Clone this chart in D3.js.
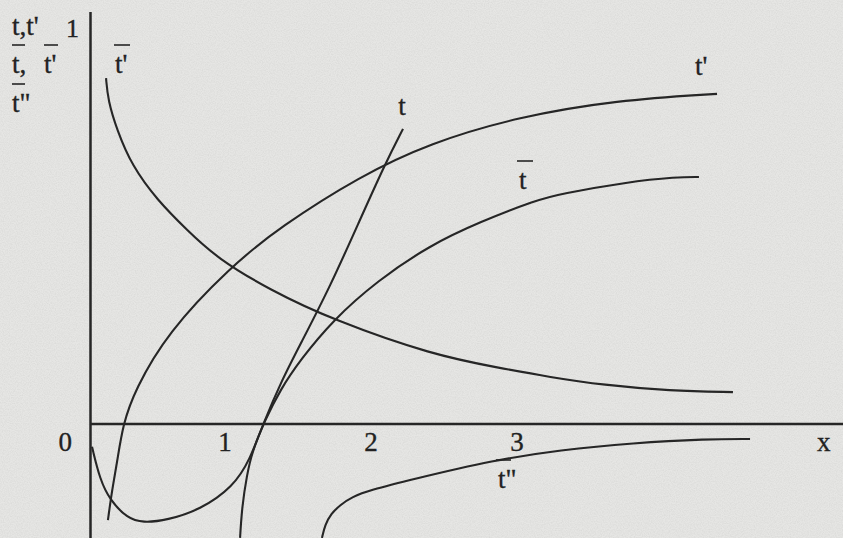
<!DOCTYPE html>
<html>
<head>
<meta charset="utf-8">
<script src="https://cdn.jsdelivr.net/npm/d3@7"></script>
<style>
  html, body { margin: 0; padding: 0; background: #e6e6e4; }
  svg { display: block; }
  text { font-family: "Liberation Serif", "Times New Roman", serif; fill: #222; stroke: #222; stroke-width: 0.35px; }
</style>
</head>
<body>
<svg id="chart" width="843" height="538"></svg>
<script>
// Tax t(x), marginal rate t'(x), average rate t̄(x) = t/x and its derivatives,
// as functions of income x.
const taxT = [
  [0.007, -0.058], [0.062, -0.142], [0.130, -0.193], [0.247, -0.239], [0.356, -0.251],
  [0.521, -0.244], [0.747, -0.218], [0.973, -0.160], [1.089, -0.091], [1.178, 0.000],
  [1.308, 0.112], [1.432, 0.201], [1.637, 0.348], [1.842, 0.518], [2.014, 0.660],
  [2.137, 0.749]
];
const marginalT = [
  [0.116, -0.244], [0.144, -0.168], [0.178, -0.099], [0.219, 0.000], [0.301, 0.086],
  [0.521, 0.231], [0.952, 0.398], [1.295, 0.500], [1.842, 0.629], [2.322, 0.713],
  [2.918, 0.779], [3.603, 0.822], [4.288, 0.838]
];
const averageT = [
  [1.021, -0.289], [1.034, -0.211], [1.068, -0.129], [1.103, -0.071], [1.192, 0.010],
  [1.295, 0.086], [1.432, 0.162], [1.658, 0.264], [1.959, 0.363], [2.322, 0.454],
  [2.664, 0.513], [3.055, 0.569], [3.212, 0.584], [3.671, 0.614], [4.014, 0.627],
  [4.164, 0.627]
];
const averageT1 = [
  [0.103, 0.878], [0.116, 0.822], [0.178, 0.746], [0.281, 0.655], [0.452, 0.569],
  [0.658, 0.492], [0.863, 0.421], [1.226, 0.340], [1.658, 0.264], [2.342, 0.175],
  [2.801, 0.142], [3.144, 0.119], [3.507, 0.099], [3.966, 0.084], [4.397, 0.081]
];
const averageT2 = [
  [1.582, -0.289], [1.603, -0.256], [1.644, -0.228], [1.705, -0.206], [1.788, -0.185],
  [1.911, -0.168], [2.185, -0.142], [2.767, -0.091], [3.212, -0.066], [3.712, -0.048],
  [4.219, -0.038], [4.514, -0.038]
];
const xTickValues = [0, 1, 2, 3];
const xTickLabels = ["0", "1", "2", "3"];
const yTickValues = [1];
const yTickLabels = ["1"];

const svg = d3.select("#chart");
const W = 843, H = 538;

// paper grain
const defs = svg.append("defs");
const grain = defs.append("filter").attr("id", "grain")
  .attr("x", 0).attr("y", 0).attr("width", "100%").attr("height", "100%");
grain.append("feTurbulence").attr("type", "fractalNoise")
  .attr("baseFrequency", 0.85).attr("numOctaves", 2).attr("seed", 7);
grain.append("feColorMatrix").attr("type", "matrix")
  .attr("values", "0 0 0 0 0.35  0 0 0 0 0.35  0 0 0 0 0.34  0.3 0 0 0 -0.1");

svg.append("rect").attr("width", W).attr("height", H).attr("fill", "#e6e6e4");
svg.append("rect").attr("width", W).attr("height", H).attr("filter", "url(#grain)");

const x = d3.scaleLinear().domain([0, 5]).range([91, 821]);
const y = d3.scaleLinear().domain([0, 1]).range([424, 30]);

const ink = "#262626";

// axes
svg.append("line")
  .attr("x1", x(0) - 0.5).attr("x2", x(0) - 0.5)
  .attr("y1", 12).attr("y2", H)
  .attr("stroke", ink).attr("stroke-width", 2.5);
svg.append("line")
  .attr("x1", x(0) - 1).attr("x2", W)
  .attr("y1", y(0)).attr("y2", y(0))
  .attr("stroke", ink).attr("stroke-width", 2.5);

// curves, smoothed through the read points
const line = d3.line()
  .x(d => x(d[0])).y(d => y(d[1]))
  .curve(d3.curveBasis);

[taxT, marginalT, averageT, averageT1, averageT2].forEach(series => {
  svg.append("path")
    .attr("d", line(series))
    .attr("fill", "none")
    .attr("stroke", ink)
    .attr("stroke-width", 2.1);
});

// x tick labels, set just left of each unit position
svg.selectAll("text.xtick")
  .data(xTickValues)
  .join("text")
  .attr("class", "xtick")
  .attr("x", (d, i) => i === 0 ? x(d) - 19 : x(d) - 12)
  .attr("y", 451)
  .attr("text-anchor", (d, i) => i === 0 ? "end" : "middle")
  .attr("font-size", 27)
  .text((d, i) => xTickLabels[i]);

svg.selectAll("text.ytick")
  .data(yTickValues)
  .join("text")
  .attr("class", "ytick")
  .attr("x", x(0) - 12)
  .attr("y", d => y(d) + 7)
  .attr("text-anchor", "end")
  .attr("font-size", 26)
  .text((d, i) => yTickLabels[i]);

svg.append("text")
  .attr("x", 817).attr("y", 451)
  .attr("font-size", 27)
  .text("x");

// labels; a bar over a symbol marks an average rate
function label(tx, ty, str, barFrom, barTo) {
  svg.append("text").attr("x", tx).attr("y", ty)
    .attr("font-size", 27).text(str);
  if (barFrom !== undefined) {
    svg.append("line")
      .attr("x1", barFrom).attr("x2", barTo)
      .attr("y1", ty - 28).attr("y2", ty - 28)
      .attr("stroke", ink).attr("stroke-width", 1.6);
  }
}

// axis title block
label(12, 35, "t,t'");
label(12, 73, "t,", 12, 25);
label(44, 73, "t'", 44, 58);
label(12, 112, "t\"", 12, 25);

// curve names
label(115, 73, "t'", 114, 130);
svg.append("text").attr("x", 402).attr("y", 115)
  .attr("text-anchor", "middle").attr("font-size", 27).text("t");
label(695, 75, "t'");
label(519, 189, "t", 517, 533);
label(498, 488, "t\"", 496, 511);
</script>
</body>
</html>
